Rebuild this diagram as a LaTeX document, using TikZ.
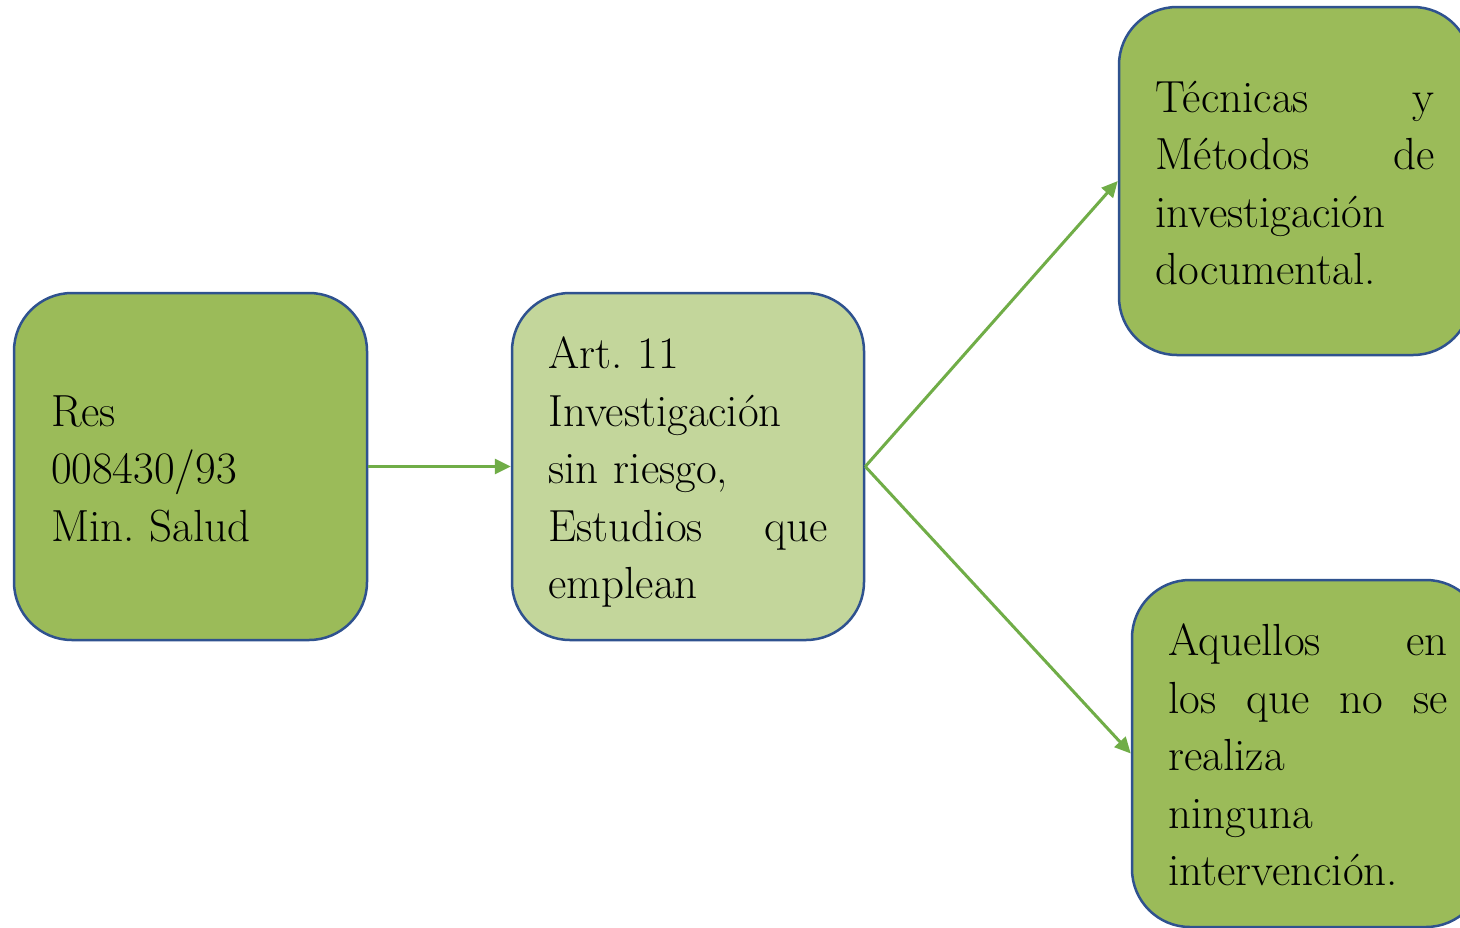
\documentclass[tikz,border=0pt]{standalone}
\usepackage{fontspec}
\usetikzlibrary{arrows.meta}
\definecolor{boxdark}{HTML}{9BBB59}
\definecolor{boxlight}{HTML}{C3D69B}
\definecolor{boxline}{HTML}{2F528F}
\definecolor{arrowgreen}{HTML}{70AD47}
\newcommand\myTopStrut{\rule{0pt}{46pt}}
\newcommand\myBotStrut{\rule[-11.5pt]{0pt}{11.5pt}}
\frenchspacing
\tikzset{
  stagebox/.style={draw=boxline, line width=2.5pt, rounded corners=58pt,
    minimum width=352pt, minimum height=347pt, text width=279pt,
    inner xsep=36.5pt, inner ysep=0pt, align=left,
    font=\fontsize{45}{57.5}\selectfont\frenchspacing, text=black},
  darkbox/.style={stagebox, fill=boxdark},
  lightbox/.style={stagebox, fill=boxlight},
  link/.style={draw=arrowgreen, line width=3pt,
    -{Triangle[length=16pt,width=15pt]}}
}
\begin{document}
\begin{tikzpicture}[x=1pt,y=-1pt]
\useasboundingbox (0,0) rectangle (1460,927);
\fill[white] (0,0) rectangle (1460,927);
\clip (0,0) rectangle (1460,927);
\node[darkbox, minimum width=353pt] (res) at (190.5,466.5)
  {\myTopStrut Res\\008430/93\\Min. Salud\myBotStrut};
\node[lightbox] (art) at (688,466.5)
  {\myTopStrut Art. 11\\Investigación\\sin riesgo,\\Estudios\hfill que\\emplean\myBotStrut};
\node[darkbox, minimum height=348pt] (tec) at (1295,181)
  {\myTopStrut Técnicas\hfill y\\Métodos\hfill de\\investigación\\documental.\myBotStrut};
\node[darkbox] (aqu) at (1308,753.5)
  {\myTopStrut Aquellos\hfill en\\los\hfill que\hfill no\hfill se\\realiza\\ninguna\\intervención.\myBotStrut};
\draw[link] (res.east) -- (art.west);
\draw[link] (art.east) -- (tec.west);
\draw[link] (art.east) -- (aqu.west);
\end{tikzpicture}
\end{document}
